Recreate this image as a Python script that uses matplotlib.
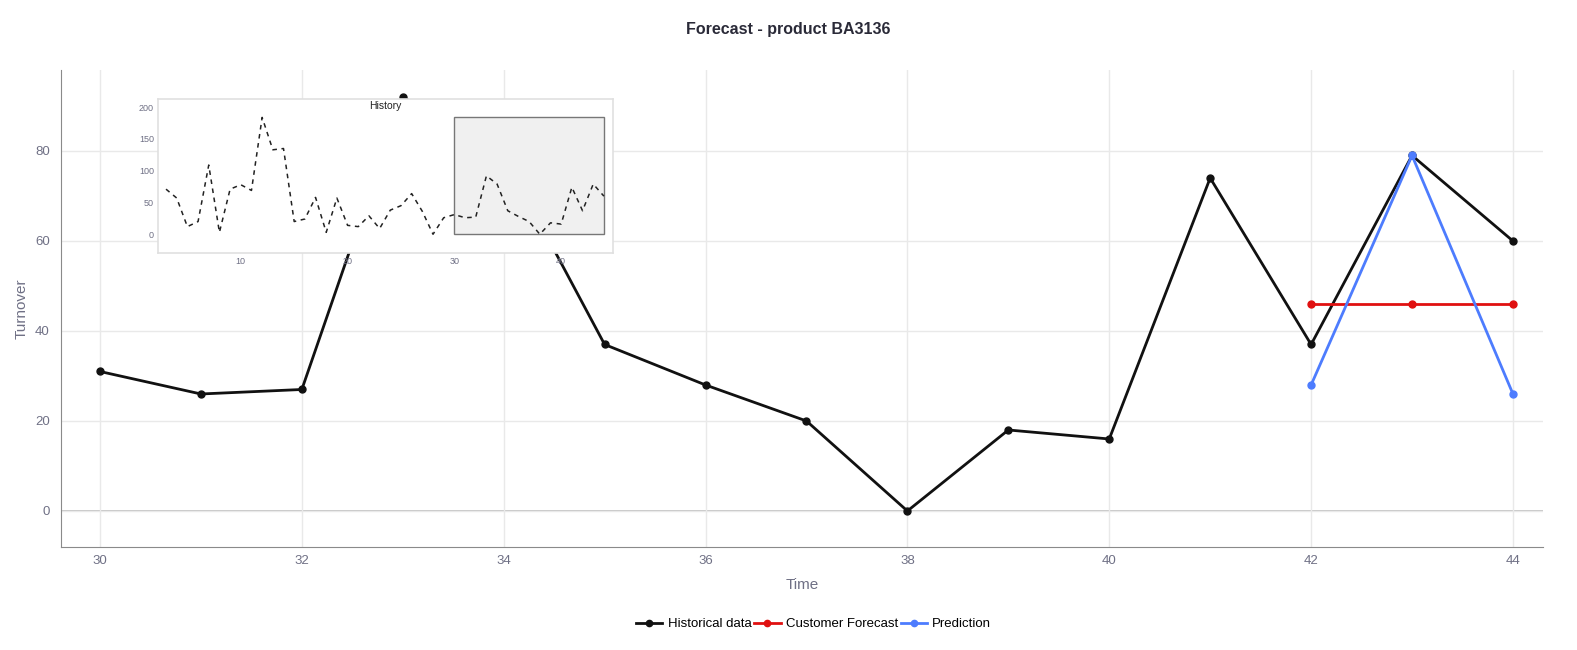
import matplotlib.pyplot as plt
from matplotlib.patches import Rectangle

plt.rcParams['font.family'] = ['Liberation Sans', 'DejaVu Sans']

# main view
weeks = list(range(30, 45))
turnover = [31, 26, 27, 92, 79, 37, 28, 20, 0, 18, 16, 74, 37, 79, 60]

fc_weeks = [42, 43, 44]
customer_fc = [46, 46, 46]
prediction = [28, 79, 26]

# full history for the inset
hist_weeks = list(range(3, 45))
hist_values = [71, 57, 12, 20, 109, 3, 71, 78, 69, 184, 133, 135, 20, 24, 58, 3,
               57, 14, 12, 29, 9, 38, 45, 64, 36, 0, 26, 31, 26, 27, 92, 79, 37,
               28, 20, 0, 18, 16, 74, 37, 79, 60]

tick_col = '#6f7085'
grid_col = '#e9e9e9'
black = '#111111'
red = '#e01010'
blue = '#4d7cfe'

fig = plt.figure(figsize=(15.77, 6.5), dpi=100)
ax = fig.add_axes([0.0387, 0.1585, 0.9397, 0.7338])

ax.plot(weeks, turnover, color=black, lw=2, marker='o', ms=5, label='Historical data', zorder=3)
ax.plot(fc_weeks, customer_fc, color=red, lw=2, marker='o', ms=5, label='Customer Forecast', zorder=4)
ax.plot(fc_weeks, prediction, color=blue, lw=2, marker='o', ms=5, label='Prediction', zorder=5)

ax.set_xlim(29.614, 44.297)
ax.set_ylim(-8, 98)
ax.set_xticks(range(30, 45, 2))
ax.set_yticks(range(0, 81, 20))
ax.grid(color=grid_col, lw=1)
ax.axhline(0, color='#bbbbbb', lw=1.2, zorder=1)
for s in ['top', 'right']:
    ax.spines[s].set_visible(False)
for s in ['left', 'bottom']:
    ax.spines[s].set_color('#8a8a8a')
ax.tick_params(length=0, colors=tick_col, labelsize=9.5)
ax.tick_params(axis='x', pad=6)
ax.tick_params(axis='y', pad=8)
ax.set_xlabel('Time', color=tick_col, fontsize=11, labelpad=8)
ax.set_ylabel('Turnover', color=tick_col, fontsize=11, labelpad=5)
fig.text(0.5, 0.955, 'Forecast - product BA3136', fontsize=11.5, fontweight='bold',
         color='#2a2a38', ha='center', va='center')

fig.legend(loc='center', bbox_to_anchor=(0.516, 0.04), ncol=3, frameon=False,
           fontsize=9.5, handlelength=2, columnspacing=0.2, handletextpad=0.4,
           markerscale=0.9)

# inset
ins = fig.add_axes([0.1002, 0.6108, 0.2885, 0.2369], zorder=10)
ins.set_facecolor('white')
ins.plot(hist_weeks, hist_values, color='#222222', lw=1.1, ls=(0, (3, 3)))
ins.add_patch(Rectangle((30, 0), 14, max(hist_values), facecolor='#f0f0f0',
                        edgecolor='#777777', lw=1, zorder=0))
ins.set_xlim(2.25, 44.85)
ins.set_ylim(-29.5, 213)
ins.set_xticks([10, 20, 30, 40])
ins.set_yticks([0, 50, 100, 150, 200])
for s in ins.spines.values():
    s.set_color('#e0e0e0')
    s.set_linewidth(1.2)
ins.tick_params(length=0, colors=tick_col, labelsize=6.5, pad=3)
ins.set_title('History', fontsize=7.5, color='#222222', y=0.88)

fig.savefig('out.png', dpi=100)
